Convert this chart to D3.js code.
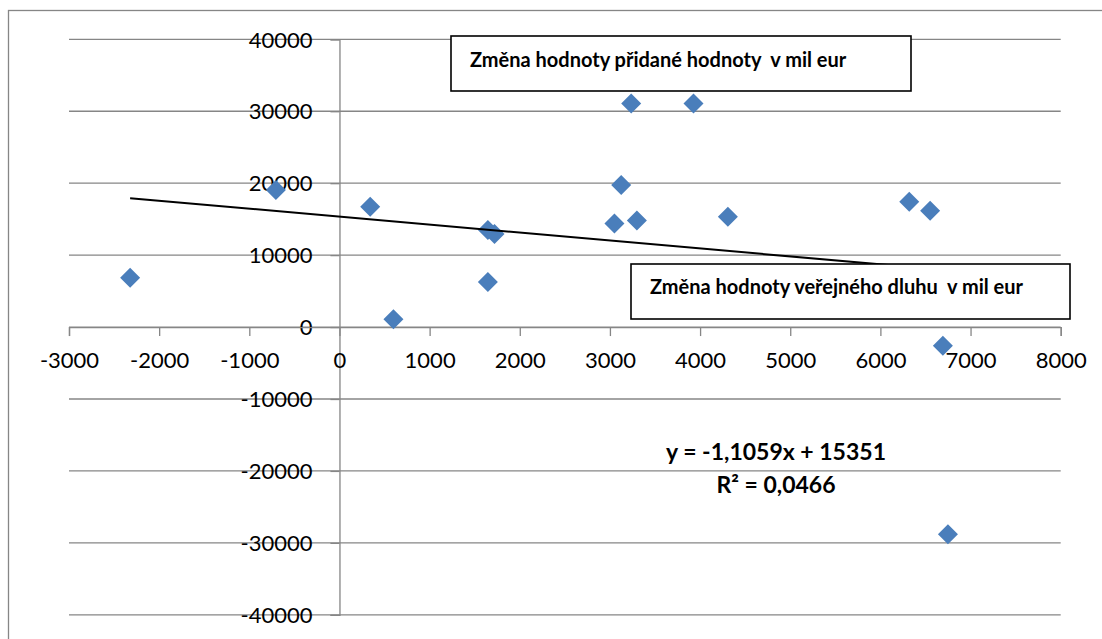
<!DOCTYPE html>
<html><head><meta charset="utf-8">
<script src="https://cdn.jsdelivr.net/npm/d3@7"></script>
<style>
html,body{margin:0;padding:0;background:#fff;}
text{font-family:Lato,"Open Sans",sans-serif;white-space:pre;}
</style></head>
<body><svg id="c" width="1102" height="639"></svg>
<script>
const xValues = [-2322, -705, 341, 599, 1646, 1720, 1646, 3050, 3125, 3236, 3299, 3927, 4308, 6320, 6552, 6693, 6749];
const yValues = [6851, 19038, 16718, 1070, 13480, 12924, 6254, 14411, 19733, 31087, 14828, 31087, 15328, 17413, 16162, -2599, -28808];
const xTicks = [-3000,-2000,-1000,0,1000,2000,3000,4000,5000,6000,7000,8000];
const yTicks = [-40000,-30000,-20000,-10000,0,10000,20000,30000,40000];
const trendSlope = -1.1059, trendIntercept = 15351;
const eqLabel = "y = -1,1059x + 15351";
const r2Label = "R² = 0,0466";
const yTitle = "Změna hodnoty přidané hodnoty  v mil eur";
const xTitle = "Změna hodnoty veřejného dluhu  v mil eur";

const svg = d3.select("#c");
const grey = "#868686";
svg.append("rect").attr("x",8.5).attr("y",10.5).attr("width",1100).attr("height",640)
  .attr("fill","#fff").attr("stroke",grey).attr("stroke-width",1.3);

const x = d3.scaleLinear().domain([-3000,8000]).range([69,1060.7]);
const y = d3.scaleLinear().domain([-40000,40000]).range([614.8,39.3]);
const fmt = d => String(d);

// gridlines
svg.append("g").selectAll("line").data(yTicks).join("line")
  .attr("x1",x(-3000)).attr("x2",x(8000)).attr("y1",d=>y(d)).attr("y2",d=>y(d))
  .attr("stroke",grey).attr("stroke-width",1.3);

// y axis at x=0
const yAxis = svg.append("g").attr("transform",`translate(${x(0)},0)`)
  .call(d3.axisLeft(y).tickValues(yTicks).tickSize(9).tickPadding(18).tickFormat(fmt));
yAxis.select(".domain").attr("stroke",grey).attr("stroke-width",1.3);
yAxis.selectAll(".tick line").attr("stroke",grey).attr("stroke-width",1.3);
yAxis.selectAll(".tick text").attr("font-size",22).attr("fill","#000").attr("dy","0.35em")
  .style("font-family","Lato");

// x axis at y=0
const xAxis = svg.append("g").attr("transform",`translate(0,${y(0)})`)
  .call(d3.axisBottom(x).tickValues(xTicks).tickSize(9).tickPadding(16).tickFormat(fmt));
xAxis.select(".domain").attr("stroke",grey).attr("stroke-width",1.3);
xAxis.selectAll(".tick line").attr("stroke",grey).attr("stroke-width",1.3);
xAxis.selectAll(".tick text").attr("font-size",22).attr("fill","#000").style("font-family","Lato");

// points
const pts = xValues.map((v,i)=>({x:v,y:yValues[i]}));
svg.append("g").selectAll("path").data(pts).join("path")
  .attr("d", d3.symbol().type(d3.symbolSquare).size(200))
  .attr("transform", d=>`translate(${x(d.x)},${y(d.y)}) rotate(45)`)
  .attr("fill","#4a7ebb");

// trendline
const xmin = d3.min(xValues), xmax = d3.max(xValues);
svg.append("line")
  .attr("x1",x(xmin)).attr("y1",y(trendSlope*xmin+trendIntercept))
  .attr("x2",x(xmax)).attr("y2",y(trendSlope*xmax+trendIntercept))
  .attr("stroke","#000").attr("stroke-width",2);

// title boxes
function box(x0,y0,w,h,tx,ty,label){
  svg.append("rect").attr("x",x0).attr("y",y0).attr("width",w).attr("height",h)
    .attr("fill","#fff").attr("stroke","#000").attr("stroke-width",1.6);
  svg.append("text").attr("x",tx).attr("y",ty).attr("font-size",20).attr("font-weight","bold")
    .attr("fill","#000").text(label);
}
box(451,36,460,55,470,67,yTitle);
box(631,264,439,55,650,294,xTitle);

svg.append("text").attr("x",776).attr("y",460).attr("text-anchor","middle")
  .attr("font-size",23).attr("font-weight","bold").text(eqLabel);
svg.append("text").attr("x",776).attr("y",493).attr("text-anchor","middle")
  .attr("font-size",23).attr("font-weight","bold").text(r2Label);
</script></body></html>
